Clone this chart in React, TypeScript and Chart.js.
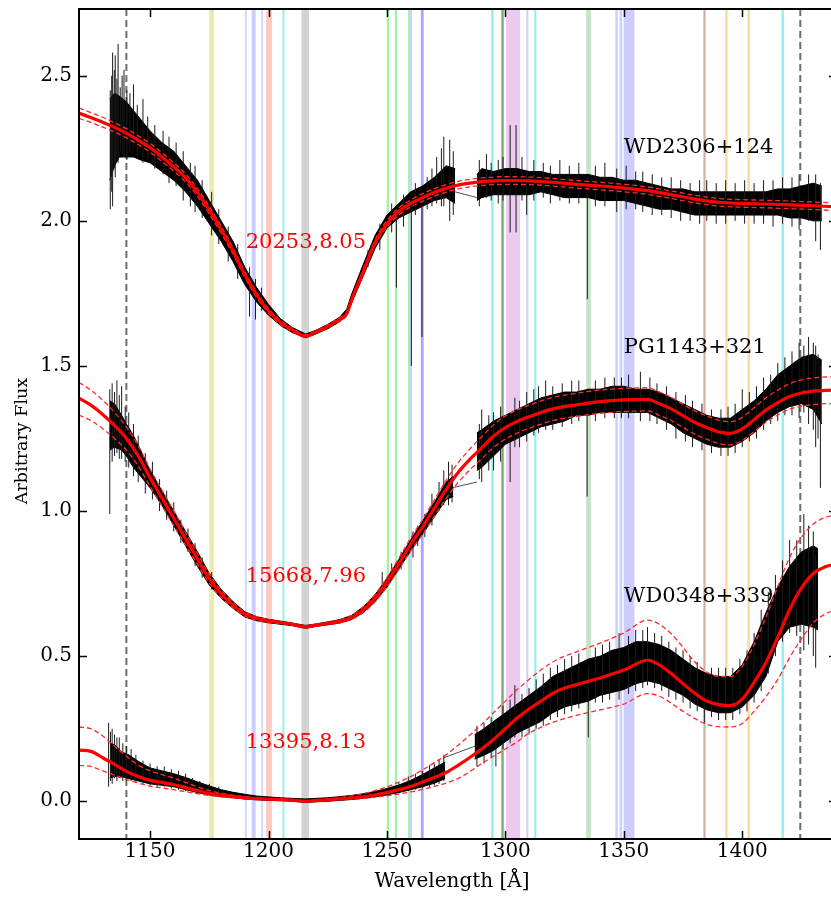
import React, { useEffect, useRef } from 'react';
import { Chart, registerables } from 'chart.js';

Chart.register(...registerables);

// ---------- axis ticks ----------
const xTicks = [1150, 1200, 1250, 1300, 1350, 1400];
const yTicks = [0, 0.5, 1.0, 1.5, 2.0, 2.5];
const xTitle = 'Wavelength [Å]';
const yTitle = 'Arbitrary Flux';

// ---------- line-mask bands (wavelength start / end) ----------
const bandStart = [1175, 1190, 1192.9, 1196.9, 1199.0, 1205.9, 1213.9, 1249.9, 1253.3, 1258.9, 1259.8, 1264.3, 1294.0, 1298.3, 1300.3, 1308.8, 1312.2, 1334.1, 1346.4, 1348.2, 1349.9, 1383.6, 1392.8, 1402.2, 1416.6];
const bandEnd = [1177, 1190.8, 1194.6, 1197.7, 1201.4, 1206.7, 1217.1, 1250.9, 1254.3, 1259.8, 1260.6, 1265.5, 1295.0, 1299.3, 1306.2, 1309.7, 1313.1, 1336.1, 1347.5, 1349.3, 1354.5, 1384.5, 1393.8, 1403.2, 1417.6];
const bandColors = ['#ebebb0', '#d4d4ff', '#ccccff', '#d8d8ff', '#ffc9c2', '#8ff0f0', '#d3d3d3', '#a8f0a8', '#a8f0a8', '#a8f0a8', '#ccccff', '#a8a8ff', '#8ff0f0', '#78a878', '#eccaf0', '#d0d0ff', '#8ff0f0', '#c8e2c8', '#d0d0ff', '#d0d0ff', '#ccccff', '#d4ae9c', '#ffd89a', '#ffd89a', '#8ff0f0'];
const refLines = [1140, 1424.5];

// ---------- labels ----------
const starNames = ['WD2306+124', 'PG1143+321', 'WD0348+339'];
const starLabelX = [1350, 1350, 1350];
const starLabelY = [2.234, 1.545, 0.686];
const fitNames = ['20253,8.05', '15668,7.96', '13395,8.13'];
const fitLabelX = [1190.4, 1190.4, 1190.4];
const fitLabelY = [1.906, 0.756, 0.182];

// ---------- observed spectra: [wavelength, upper envelope, lower envelope] ----------
const topSegA = [
  [1133, 2.42, 2.14], [1135, 2.44, 2.19], [1137, 2.43, 2.22], [1140, 2.41, 2.22], [1143, 2.38, 2.22],
  [1146, 2.35, 2.21], [1150, 2.31, 2.20], [1155, 2.27, 2.17], [1160, 2.24, 2.14], [1165, 2.19, 2.10],
  [1170, 2.14, 2.05], [1175, 2.07, 1.99], [1180, 2.00, 1.93], [1185, 1.93, 1.86], [1190, 1.84, 1.78],
  [1195, 1.77, 1.72], [1200, 1.712, 1.675], [1205, 1.663, 1.64], [1210, 1.633, 1.615], [1215.7, 1.61, 1.597],
  [1220, 1.623, 1.61], [1225, 1.643, 1.628], [1230, 1.668, 1.652], [1233, 1.695, 1.675], [1235, 1.745, 1.715],
  [1240, 1.85, 1.81], [1245, 1.95, 1.905], [1250, 2.02, 1.975], [1255, 2.06, 2.01], [1260, 2.10, 2.03],
  [1265, 2.12, 2.05], [1270, 2.15, 2.07], [1275, 2.19, 2.08], [1278.8, 2.18, 2.06],
];
const topSegB = [
  [1288, 2.16, 2.07], [1290, 2.18, 2.08], [1295, 2.17, 2.09], [1300, 2.18, 2.09], [1305, 2.18, 2.09],
  [1310, 2.17, 2.09], [1315, 2.17, 2.10], [1320, 2.16, 2.09], [1325, 2.16, 2.08], [1330, 2.16, 2.08],
  [1335, 2.16, 2.08], [1340, 2.15, 2.07], [1345, 2.15, 2.07], [1350, 2.14, 2.07], [1355, 2.14, 2.06],
  [1360, 2.13, 2.05], [1365, 2.12, 2.04], [1370, 2.11, 2.04], [1375, 2.11, 2.03], [1380, 2.10, 2.02],
  [1385, 2.10, 2.02], [1390, 2.10, 2.02], [1395, 2.10, 2.02], [1400, 2.10, 2.02], [1405, 2.10, 2.02],
  [1410, 2.10, 2.02], [1415, 2.11, 2.02], [1420, 2.11, 2.01], [1425, 2.12, 2.01], [1430, 2.13, 2.00],
  [1433.6, 2.12, 2.00],
];
// noise excursions: [wavelength, low end, high end]
const topSpikes = [
  [1133.2, 2.04, 2.45], [1133.8, 2.10, 2.50], [1134.2, 2.05, 2.58], [1134.9, 2.18, 2.52], [1135.3, 2.15, 2.57],
  [1136.0, 2.22, 2.49], [1136.5, 2.20, 2.61], [1137.4, 2.24, 2.46], [1138.2, 2.23, 2.50], [1139, 2.22, 2.52],
  [1140.2, 2.21, 2.45], [1141.5, 2.24, 2.44], [1143, 2.25, 2.47], [1144.6, 2.22, 2.40], [1147, 2.20, 2.42],
  [1149, 2.21, 2.36], [1152, 2.18, 2.33], [1155.5, 2.16, 2.31], [1158, 2.13, 2.29], [1161, 2.12, 2.27],
  [1164, 2.07, 2.24], [1167, 2.05, 2.20], [1169, 2.03, 2.19], [1172, 2.01, 2.14], [1176, 1.95, 2.10],
  [1179, 1.92, 2.04], [1183, 1.86, 1.98], [1187, 1.80, 1.92], [1192, 1.67, 1.84], [1194.5, 1.66, 1.80],
  [1197, 1.69, 1.77], [1242, 1.84, 1.90], [1247, 1.90, 1.99], [1252, 1.96, 2.06], [1254, 1.77, 2.03],
  [1257, 1.98, 2.09], [1260.3, 1.50, 2.07], [1262, 2.02, 2.13], [1264.8, 1.60, 2.10], [1267, 2.04, 2.15],
  [1269, 2.05, 2.18], [1271, 2.06, 2.22], [1273, 2.05, 2.25], [1274, 2.05, 2.29], [1276.5, 2.00, 2.28],
  [1278, 2.02, 2.24], [1289, 2.05, 2.21], [1292, 2.08, 2.23], [1294, 2.07, 2.20], [1297, 2.06, 2.21],
  [1299, 2.07, 2.22], [1302, 1.96, 2.33], [1304.5, 1.96, 2.33], [1307, 2.07, 2.22], [1309, 2.02, 2.17],
  [1312, 2.07, 2.21], [1316, 2.08, 2.20], [1319, 2.06, 2.19], [1323, 2.07, 2.21], [1327, 2.06, 2.19],
  [1331, 2.06, 2.20], [1334.6, 1.73, 2.15], [1338, 2.05, 2.19], [1342, 2.05, 2.20], [1347, 2.03, 2.18],
  [1351, 2.04, 2.19], [1355, 2.04, 2.17], [1358, 2.03, 2.17], [1362, 2.02, 2.16], [1366, 2.02, 2.15],
  [1370, 2.01, 2.15], [1374, 2.00, 2.14], [1378, 2.00, 2.13], [1382, 1.99, 2.14], [1385, 2.00, 2.14],
  [1389, 1.99, 2.13], [1393, 1.99, 2.14], [1397, 2.00, 2.13], [1401, 1.99, 2.14], [1405, 1.99, 2.13],
  [1409, 1.99, 2.14], [1413, 1.98, 2.14], [1417, 1.99, 2.15], [1421, 1.98, 2.15], [1424, 1.97, 2.16],
  [1428, 2.00, 2.16], [1431, 1.93, 2.16], [1433, 1.90, 2.13],
];
const topJoin = [[1278.8, 2.10], [1288, 2.08]];

const midSegA = [
  [1133, 1.38, 1.21], [1135, 1.37, 1.22], [1138, 1.33, 1.21], [1140, 1.30, 1.19], [1143, 1.26, 1.15],
  [1146, 1.21, 1.12], [1150, 1.14, 1.08], [1155, 1.07, 1.02], [1160, 1.00, 0.95], [1165, 0.93, 0.88],
  [1170, 0.86, 0.81], [1175, 0.785, 0.745], [1180, 0.73, 0.70], [1185, 0.688, 0.665], [1190, 0.653, 0.635],
  [1195, 0.636, 0.622], [1200, 0.627, 0.615], [1205, 0.621, 0.61], [1210, 0.614, 0.605], [1215.7, 0.606, 0.596],
  [1220, 0.611, 0.602], [1225, 0.618, 0.608], [1230, 0.626, 0.614], [1235, 0.64, 0.626], [1240, 0.67, 0.65],
  [1245, 0.712, 0.688], [1250, 0.768, 0.738], [1255, 0.833, 0.80], [1260, 0.90, 0.862], [1265, 0.965, 0.92],
  [1270, 1.03, 0.98], [1275, 1.10, 1.04], [1278, 1.12, 1.05],
];
const midSegB = [
  [1288, 1.27, 1.14], [1290, 1.28, 1.15], [1295, 1.31, 1.19], [1300, 1.33, 1.23], [1305, 1.35, 1.25],
  [1310, 1.37, 1.27], [1315, 1.39, 1.29], [1320, 1.40, 1.30], [1325, 1.41, 1.31], [1330, 1.41, 1.33],
  [1335, 1.42, 1.33], [1340, 1.42, 1.34], [1345, 1.43, 1.34], [1350, 1.43, 1.34], [1355, 1.42, 1.34],
  [1360, 1.42, 1.34], [1365, 1.41, 1.32], [1370, 1.39, 1.30], [1375, 1.37, 1.27], [1380, 1.35, 1.25],
  [1385, 1.33, 1.23], [1390, 1.32, 1.22], [1395, 1.32, 1.22], [1400, 1.35, 1.24], [1405, 1.38, 1.27],
  [1410, 1.42, 1.31], [1415, 1.47, 1.34], [1420, 1.50, 1.36], [1425, 1.53, 1.37], [1430, 1.54, 1.35],
  [1433.6, 1.52, 1.30],
];
const midSpikes = [
  [1133, 0.99, 1.42], [1134, 1.17, 1.44], [1135, 1.19, 1.41], [1136, 1.20, 1.45], [1137, 1.18, 1.40],
  [1138, 1.18, 1.43], [1139.5, 1.17, 1.36], [1141, 1.15, 1.34], [1143, 1.12, 1.30], [1145, 1.10, 1.26],
  [1148, 1.06, 1.20], [1151, 1.04, 1.17], [1154, 1.00, 1.11], [1157, 0.97, 1.07], [1160, 0.93, 1.03],
  [1163, 0.89, 0.97], [1166, 0.86, 0.94], [1169, 0.81, 0.89], [1172, 0.77, 0.84], [1176, 0.73, 0.79],
  [1248, 0.72, 0.79], [1252, 0.76, 0.82], [1256, 0.80, 0.86], [1261, 0.84, 0.93], [1263, 0.88, 0.95],
  [1266, 0.91, 0.99], [1269, 0.95, 1.06], [1272, 1.00, 1.10], [1274, 1.02, 1.14], [1276, 1.02, 1.17],
  [1277.5, 1.03, 1.16], [1289, 1.11, 1.30], [1290, 1.10, 1.35], [1293, 1.14, 1.33], [1295, 1.14, 1.34],
  [1298, 1.17, 1.36], [1302, 1.10, 1.30], [1304, 1.22, 1.39], [1306, 1.22, 1.38], [1309, 1.24, 1.41],
  [1312, 1.26, 1.42], [1314, 1.27, 1.43], [1317, 1.28, 1.45], [1320, 1.28, 1.43], [1324, 1.29, 1.44],
  [1328, 1.30, 1.45], [1331, 1.31, 1.45], [1334.5, 1.05, 1.40], [1338, 1.31, 1.45], [1342, 1.32, 1.46],
  [1346, 1.32, 1.46], [1349, 1.32, 1.46], [1352, 1.32, 1.47], [1357, 1.31, 1.48], [1361, 1.31, 1.46],
  [1364, 1.30, 1.44], [1368, 1.28, 1.43], [1372, 1.25, 1.41], [1376, 1.24, 1.40], [1379, 1.22, 1.38],
  [1383, 1.21, 1.37], [1387, 1.20, 1.35], [1391, 1.19, 1.35], [1394, 1.19, 1.36], [1397, 1.20, 1.37],
  [1400, 1.22, 1.42], [1403, 1.24, 1.41], [1406, 1.25, 1.43], [1409, 1.28, 1.46], [1412, 1.30, 1.47],
  [1415, 1.31, 1.51], [1418, 1.33, 1.53], [1421, 1.33, 1.55], [1424, 1.32, 1.58], [1426, 1.34, 1.57],
  [1428, 1.30, 1.60], [1430, 1.28, 1.58], [1431, 1.22, 1.57], [1432, 1.25, 1.54], [1433, 1.08, 1.50],
];
const midJoin = [[1277.4, 1.08], [1288, 1.10]];

const botSegA = [
  [1133, 0.20, 0.08], [1135, 0.195, 0.085], [1138, 0.17, 0.085], [1141, 0.16, 0.078], [1145, 0.138, 0.07],
  [1150, 0.115, 0.06], [1155, 0.105, 0.055], [1160, 0.095, 0.05], [1165, 0.082, 0.04], [1170, 0.067, 0.03],
  [1175, 0.053, 0.022], [1180, 0.04, 0.016], [1185, 0.031, 0.012], [1190, 0.024, 0.008], [1195, 0.018, 0.005],
  [1200, 0.015, 0.003], [1205, 0.012, 0.002], [1210, 0.01, 0.0], [1215.7, 0.008, -0.004], [1220, 0.01, -0.002],
  [1225, 0.012, 0.0], [1230, 0.016, 0.003], [1235, 0.02, 0.006], [1240, 0.026, 0.01], [1245, 0.034, 0.015],
  [1250, 0.044, 0.022], [1255, 0.056, 0.03], [1260, 0.072, 0.04], [1265, 0.092, 0.05], [1270, 0.115, 0.062],
  [1274.6, 0.135, 0.078],
];
const botSegB = [
  [1287, 0.23, 0.145], [1290, 0.245, 0.155], [1295, 0.275, 0.175], [1300, 0.305, 0.205], [1305, 0.335, 0.235],
  [1310, 0.365, 0.255], [1315, 0.395, 0.275], [1320, 0.43, 0.305], [1325, 0.45, 0.325], [1330, 0.47, 0.335],
  [1335, 0.49, 0.345], [1340, 0.50, 0.365], [1345, 0.52, 0.375], [1350, 0.53, 0.385], [1355, 0.55, 0.405],
  [1360, 0.55, 0.415], [1365, 0.54, 0.405], [1370, 0.52, 0.385], [1375, 0.49, 0.365], [1380, 0.46, 0.335],
  [1385, 0.44, 0.315], [1390, 0.43, 0.305], [1395, 0.43, 0.305], [1400, 0.47, 0.325], [1405, 0.55, 0.365],
  [1410, 0.65, 0.43], [1415, 0.74, 0.55], [1420, 0.81, 0.60], [1425, 0.86, 0.61], [1430, 0.88, 0.60],
  [1432, 0.87, 0.59],
];
const botSpikes = [
  [1132.5, 0.05, 0.27], [1133.3, 0.07, 0.24], [1134, 0.06, 0.25], [1135, 0.08, 0.23], [1136, 0.07, 0.22],
  [1137, 0.08, 0.22], [1138.5, 0.07, 0.20], [1140, 0.07, 0.19], [1142, 0.07, 0.18], [1144, 0.065, 0.16],
  [1147, 0.06, 0.14], [1150, 0.055, 0.13], [1153, 0.05, 0.12], [1156, 0.05, 0.12], [1159, 0.045, 0.11],
  [1162, 0.04, 0.105], [1165, 0.035, 0.095], [1168, 0.03, 0.08], [1171, 0.025, 0.07], [1175, 0.02, 0.06],
  [1179, 0.015, 0.05], [1255, 0.028, 0.065], [1259, 0.035, 0.085], [1262, 0.04, 0.095], [1265, 0.045, 0.105],
  [1268, 0.05, 0.125], [1270, 0.055, 0.13], [1272, 0.06, 0.145], [1274, 0.07, 0.16], [1288, 0.12, 0.26],
  [1291, 0.13, 0.27], [1294, 0.15, 0.29], [1296, 0.12, 0.28], [1299, 0.18, 0.33], [1302, 0.20, 0.35],
  [1304, 0.22, 0.40], [1307, 0.22, 0.37], [1310, 0.23, 0.39], [1313, 0.25, 0.42], [1316, 0.26, 0.44],
  [1319, 0.28, 0.46], [1322, 0.29, 0.47], [1325, 0.30, 0.49], [1328, 0.31, 0.50], [1331, 0.32, 0.51],
  [1335, 0.22, 0.47], [1338, 0.34, 0.53], [1341, 0.34, 0.54], [1344, 0.35, 0.55], [1348, 0.35, 0.58],
  [1352, 0.37, 0.57], [1355, 0.38, 0.59], [1358, 0.39, 0.59], [1360, 0.40, 0.60], [1363, 0.39, 0.58],
  [1366, 0.38, 0.57], [1369, 0.36, 0.55], [1372, 0.35, 0.53], [1375, 0.34, 0.52], [1378, 0.32, 0.50],
  [1381, 0.31, 0.48], [1384, 0.27, 0.44], [1387, 0.29, 0.46], [1390, 0.28, 0.46], [1393, 0.28, 0.46],
  [1396, 0.28, 0.46], [1399, 0.30, 0.49], [1402, 0.31, 0.52], [1405, 0.34, 0.58], [1408, 0.38, 0.66],
  [1411, 0.44, 0.72], [1414, 0.50, 0.78], [1417, 0.55, 0.83], [1420, 0.58, 0.90], [1423, 0.57, 0.90],
  [1426, 0.52, 0.99], [1428, 0.54, 0.95], [1430, 0.50, 0.93], [1431, 0.46, 0.85],
];
const botJoin = [[1274, 0.15], [1287.2, 0.19]];

// ---------- model fits: [wavelength, flux, upper, lower] ----------
const modelTop = [
  [1120, 2.371, 2.389, 2.353], [1125, 2.356, 2.373, 2.339], [1130, 2.340, 2.357, 2.323], [1135, 2.322, 2.338, 2.306],
  [1140, 2.302, 2.318, 2.286], [1145, 2.278, 2.293, 2.263], [1150, 2.252, 2.267, 2.237], [1155, 2.220, 2.235, 2.205],
  [1160, 2.186, 2.200, 2.172], [1165, 2.148, 2.162, 2.134], [1170, 2.098, 2.111, 2.085], [1175, 2.037, 2.050, 2.024],
  [1180, 1.970, 1.982, 1.958], [1185, 1.897, 1.908, 1.886], [1190, 1.815, 1.825, 1.805], [1195, 1.745, 1.754, 1.736],
  [1200, 1.690, 1.698, 1.682], [1205, 1.651, 1.658, 1.644], [1210, 1.625, 1.631, 1.619], [1215.7, 1.603, 1.608, 1.598],
  [1220, 1.617, 1.622, 1.612], [1225, 1.636, 1.641, 1.631], [1230, 1.660, 1.666, 1.654], [1233, 1.680, 1.687, 1.673],
  [1235, 1.725, 1.733, 1.717], [1240, 1.825, 1.834, 1.816], [1245, 1.925, 1.935, 1.915], [1250, 1.990, 2.001, 1.979],
  [1255, 2.032, 2.044, 2.020], [1260, 2.060, 2.072, 2.048], [1265, 2.080, 2.093, 2.067], [1270, 2.098, 2.111, 2.085],
  [1275, 2.112, 2.125, 2.099], [1280, 2.123, 2.136, 2.110], [1285, 2.130, 2.143, 2.117], [1290, 2.135, 2.148, 2.122],
  [1295, 2.138, 2.151, 2.125], [1300, 2.139, 2.152, 2.126], [1310, 2.138, 2.151, 2.125], [1320, 2.133, 2.146, 2.120],
  [1330, 2.126, 2.139, 2.113], [1340, 2.120, 2.133, 2.107], [1350, 2.113, 2.126, 2.100], [1360, 2.104, 2.117, 2.091],
  [1370, 2.090, 2.103, 2.077], [1380, 2.075, 2.088, 2.062], [1390, 2.064, 2.077, 2.051], [1400, 2.060, 2.073, 2.047],
  [1410, 2.058, 2.071, 2.045], [1420, 2.055, 2.068, 2.042], [1430, 2.052, 2.065, 2.039], [1440, 2.048, 2.061, 2.035],
];
const modelMid = [
  [1120, 1.389, 1.443, 1.331], [1125, 1.365, 1.417, 1.312], [1130, 1.333, 1.382, 1.284], [1135, 1.295, 1.340, 1.250],
  [1140, 1.250, 1.290, 1.210], [1145, 1.190, 1.225, 1.155], [1150, 1.115, 1.145, 1.085], [1155, 1.045, 1.072, 1.018],
  [1160, 0.975, 1.000, 0.950], [1165, 0.905, 0.927, 0.883], [1170, 0.835, 0.854, 0.816], [1175, 0.767, 0.782, 0.752],
  [1180, 0.715, 0.727, 0.703], [1185, 0.676, 0.685, 0.667], [1190, 0.645, 0.652, 0.638], [1195, 0.630, 0.636, 0.624],
  [1200, 0.621, 0.626, 0.616], [1205, 0.616, 0.620, 0.612], [1210, 0.610, 0.614, 0.606], [1215.7, 0.601, 0.604, 0.598],
  [1220, 0.607, 0.610, 0.604], [1225, 0.613, 0.617, 0.609], [1230, 0.620, 0.625, 0.615], [1235, 0.633, 0.640, 0.626],
  [1240, 0.660, 0.670, 0.650], [1245, 0.700, 0.713, 0.687], [1250, 0.755, 0.771, 0.739], [1255, 0.818, 0.837, 0.799],
  [1260, 0.885, 0.907, 0.863], [1265, 0.945, 0.970, 0.920], [1270, 1.010, 1.038, 0.982], [1275, 1.075, 1.106, 1.044],
  [1280, 1.132, 1.166, 1.098], [1285, 1.178, 1.214, 1.142], [1290, 1.218, 1.256, 1.180], [1295, 1.258, 1.297, 1.219],
  [1300, 1.288, 1.328, 1.248], [1305, 1.309, 1.349, 1.269], [1310, 1.325, 1.365, 1.285], [1320, 1.352, 1.392, 1.312],
  [1330, 1.366, 1.406, 1.326], [1340, 1.377, 1.417, 1.337], [1350, 1.383, 1.423, 1.343], [1360, 1.385, 1.425, 1.345],
  [1365, 1.370, 1.410, 1.330], [1370, 1.352, 1.392, 1.312], [1375, 1.328, 1.368, 1.288], [1380, 1.305, 1.345, 1.265],
  [1385, 1.288, 1.328, 1.248], [1390, 1.273, 1.313, 1.233], [1395, 1.268, 1.308, 1.228], [1400, 1.283, 1.323, 1.243],
  [1405, 1.315, 1.356, 1.274], [1410, 1.348, 1.390, 1.306], [1415, 1.374, 1.417, 1.331], [1420, 1.395, 1.439, 1.351],
  [1425, 1.407, 1.452, 1.362], [1430, 1.413, 1.459, 1.367], [1435, 1.416, 1.462, 1.370], [1440, 1.417, 1.463, 1.371],
];
const modelBot = [
  [1120, 0.176, 0.256, 0.124], [1125, 0.172, 0.250, 0.120], [1130, 0.150, 0.225, 0.105], [1135, 0.127, 0.190, 0.090],
  [1140, 0.103, 0.155, 0.075], [1145, 0.085, 0.125, 0.063], [1150, 0.072, 0.105, 0.052], [1155, 0.065, 0.092, 0.046],
  [1160, 0.057, 0.080, 0.040], [1165, 0.047, 0.065, 0.033], [1170, 0.037, 0.050, 0.026], [1175, 0.027, 0.037, 0.020],
  [1180, 0.021, 0.028, 0.015], [1185, 0.016, 0.021, 0.012], [1190, 0.012, 0.016, 0.009], [1195, 0.009, 0.012, 0.007],
  [1200, 0.007, 0.009, 0.005], [1205, 0.006, 0.007, 0.004], [1210, 0.004, 0.005, 0.003], [1215.7, 0.000, 0.001, 0.000],
  [1220, 0.003, 0.004, 0.002], [1225, 0.005, 0.007, 0.004], [1230, 0.008, 0.012, 0.006], [1235, 0.011, 0.018, 0.008],
  [1240, 0.015, 0.026, 0.010], [1245, 0.022, 0.037, 0.014], [1250, 0.030, 0.050, 0.019], [1255, 0.040, 0.066, 0.025],
  [1260, 0.051, 0.085, 0.032], [1265, 0.066, 0.108, 0.041], [1270, 0.082, 0.133, 0.051], [1275, 0.099, 0.160, 0.063],
  [1280, 0.124, 0.193, 0.078], [1285, 0.151, 0.228, 0.102], [1290, 0.180, 0.265, 0.130], [1295, 0.213, 0.305, 0.155],
  [1300, 0.250, 0.345, 0.180], [1305, 0.287, 0.385, 0.205], [1310, 0.318, 0.420, 0.235], [1315, 0.345, 0.452, 0.255],
  [1320, 0.372, 0.480, 0.272], [1325, 0.390, 0.500, 0.285], [1330, 0.402, 0.515, 0.296], [1340, 0.425, 0.545, 0.315],
  [1350, 0.452, 0.580, 0.335], [1360, 0.486, 0.624, 0.371], [1365, 0.470, 0.610, 0.362], [1370, 0.440, 0.577, 0.338],
  [1375, 0.405, 0.530, 0.310], [1380, 0.372, 0.480, 0.285], [1385, 0.345, 0.445, 0.265], [1390, 0.333, 0.430, 0.257],
  [1395, 0.330, 0.430, 0.256], [1400, 0.352, 0.465, 0.268], [1405, 0.410, 0.540, 0.310], [1410, 0.478, 0.635, 0.360],
  [1415, 0.565, 0.740, 0.420], [1420, 0.660, 0.840, 0.495], [1425, 0.735, 0.910, 0.560], [1430, 0.785, 0.955, 0.615],
  [1435, 0.808, 0.978, 0.645], [1440, 0.818, 0.988, 0.660],
];

// ---------- helpers ----------
const FONT = '"DejaVu Serif", "Liberation Serif", serif';
const col = (rows: number[][], c: number) => rows.map((r) => ({ x: r[0], y: r[c] }));
const spikePoints = (rows: number[][]) => {
  const out: { x: number; y: number | null }[] = [];
  rows.forEach((r) => {
    out.push({ x: r[0], y: r[1] }, { x: r[0], y: r[2] }, { x: r[0], y: null });
  });
  return out;
};

function buildDatasets() {
  const ds: any[] = [];
  const stars = [
    { a: topSegA, b: topSegB, sp: topSpikes, j: topJoin, m: modelTop },
    { a: midSegA, b: midSegB, sp: midSpikes, j: midJoin, m: modelMid },
    { a: botSegA, b: botSegB, sp: botSpikes, j: botJoin, m: modelBot },
  ];
  const base = { pointRadius: 0, tension: 0, spanGaps: false };
  stars.forEach((s) => {
    [s.a, s.b].forEach((seg) => {
      ds.push({ ...base, data: col(seg, 1), borderColor: '#000', borderWidth: 1, backgroundColor: '#000', fill: '+1', order: 5 });
      ds.push({ ...base, data: col(seg, 2), borderColor: '#000', borderWidth: 1, fill: false, order: 5 });
    });
    ds.push({ ...base, data: spikePoints(s.sp), borderColor: '#1a1a1a', borderWidth: 1, fill: false, order: 4 });
    ds.push({ ...base, data: s.j.map((p) => ({ x: p[0], y: p[1] })), borderColor: '#222', borderWidth: 0.8, fill: false, order: 4 });
    ds.push({ ...base, data: col(s.m, 2), borderColor: '#ff2a2a', borderWidth: 1.3, borderDash: [5, 3], fill: false, order: 2, cubicInterpolationMode: 'monotone' });
    ds.push({ ...base, data: col(s.m, 3), borderColor: '#ff2a2a', borderWidth: 1.3, borderDash: [5, 3], fill: false, order: 2, cubicInterpolationMode: 'monotone' });
    ds.push({ ...base, data: col(s.m, 1), borderColor: '#ff0000', borderWidth: 3.2, fill: false, order: 1, cubicInterpolationMode: 'monotone' });
  });
  return ds;
}

const decoPlugin = {
  id: 'deco',
  beforeDatasetsDraw(chart: any) {
    const { ctx, chartArea: a, scales } = chart;
    const x = scales.x;
    ctx.save();
    ctx.beginPath();
    ctx.rect(a.left, a.top, a.right - a.left, a.bottom - a.top);
    ctx.clip();
    bandStart.forEach((s, i) => {
      const x0 = x.getPixelForValue(s);
      const x1 = x.getPixelForValue(bandEnd[i]);
      ctx.fillStyle = bandColors[i];
      ctx.fillRect(x0, a.top, Math.max(1.5, x1 - x0), a.bottom - a.top);
    });
    ctx.setLineDash([7, 4]);
    ctx.strokeStyle = '#6e6e6e';
    ctx.lineWidth = 2;
    refLines.forEach((v) => {
      const px = x.getPixelForValue(v);
      ctx.beginPath();
      ctx.moveTo(px, a.top);
      ctx.lineTo(px, a.bottom);
      ctx.stroke();
    });
    ctx.restore();
  },
  afterDatasetsDraw(chart: any) {
    const { ctx, scales } = chart;
    const x = scales.x;
    const y = scales.y;
    ctx.save();
    ctx.font = `21px ${FONT}`;
    ctx.textAlign = 'left';
    ctx.textBaseline = 'alphabetic';
    ctx.fillStyle = '#000';
    starNames.forEach((t, i) => ctx.fillText(t, x.getPixelForValue(starLabelX[i]), y.getPixelForValue(starLabelY[i])));
    ctx.fillStyle = '#ff0000';
    fitNames.forEach((t, i) => ctx.fillText(t, x.getPixelForValue(fitLabelX[i]), y.getPixelForValue(fitLabelY[i])));
    ctx.restore();
  },
  afterDraw(chart: any) {
    const { ctx, chartArea: a, scales } = chart;
    const x = scales.x;
    const y = scales.y;
    const L = 8;
    ctx.save();
    ctx.strokeStyle = '#000';
    ctx.lineWidth = 1.5;
    ctx.beginPath();
    xTicks.forEach((v) => {
      const px = Math.round(x.getPixelForValue(v)) + 0.5;
      ctx.moveTo(px, a.bottom);
      ctx.lineTo(px, a.bottom - L);
      ctx.moveTo(px, a.top);
      ctx.lineTo(px, a.top + L);
    });
    yTicks.forEach((v) => {
      const py = Math.round(y.getPixelForValue(v)) + 0.5;
      ctx.moveTo(a.left, py);
      ctx.lineTo(a.left + L, py);
      ctx.moveTo(a.right, py);
      ctx.lineTo(a.right - L, py);
    });
    ctx.stroke();
    ctx.lineWidth = 2;
    ctx.strokeRect(a.left, a.top, a.right - a.left, a.bottom - a.top);
    // axis titles (placed as in the reference figure)
    ctx.fillStyle = '#000';
    ctx.textAlign = 'center';
    ctx.textBaseline = 'middle';
    ctx.font = `20px ${FONT}`;
    ctx.fillText(xTitle, 452, 882);
    ctx.translate(22, 441);
    ctx.rotate(-Math.PI / 2);
    ctx.font = `17.5px ${FONT}`;
    ctx.fillText(yTitle, 0, 0);
    ctx.restore();
  },
};

export default function App() {
  const ref = useRef<HTMLCanvasElement | null>(null);
  useEffect(() => {
    if (!ref.current) return;
    document.body.style.margin = '0';
    document.body.style.overflow = 'hidden';
    const chart = new Chart(ref.current, {
      type: 'line',
      data: { datasets: buildDatasets() },
      options: {
        responsive: false,
        animation: false,
        events: [],
        layout: { padding: { left: 0, top: 9, right: 8, bottom: 0 } },
        plugins: { legend: { display: false }, tooltip: { enabled: false } },
        scales: {
          x: {
            type: 'linear',
            min: 1120,
            max: 1440,
            grid: { display: false, drawTicks: false },
            border: { display: false },
            ticks: { font: { family: FONT, size: 20 }, color: '#000', padding: 1, maxRotation: 0, autoSkip: false, callback: (v: any) => String(v) },
            afterBuildTicks: (s: any) => {
              s.ticks = xTicks.map((v) => ({ value: v }));
            },
            afterFit: (s: any) => {
              s.height = 58;
              s.paddingLeft = 0;
              s.paddingRight = 0;
            },
            title: { display: false },
          },
          y: {
            type: 'linear',
            min: -0.13,
            max: 2.73,
            grid: { display: false, drawTicks: false },
            border: { display: false },
            ticks: { font: { family: FONT, size: 20 }, color: '#000', padding: 7, callback: (v: any) => Number(v).toFixed(1) },
            afterBuildTicks: (s: any) => {
              s.ticks = yTicks.map((v) => ({ value: v }));
            },
            afterFit: (s: any) => {
              s.width = 79;
              s.paddingTop = 0;
              s.paddingBottom = 0;
            },
            title: { display: false },
          },
        },
      } as any,
      plugins: [decoPlugin],
    });
    return () => chart.destroy();
  }, []);
  return (
    <div style={{ position: 'fixed', left: 0, top: 0, width: 845, height: 897, background: '#fff' }}>
      <canvas ref={ref} width={845} height={897} style={{ width: 845, height: 897, display: 'block' }} />
    </div>
  );
}
